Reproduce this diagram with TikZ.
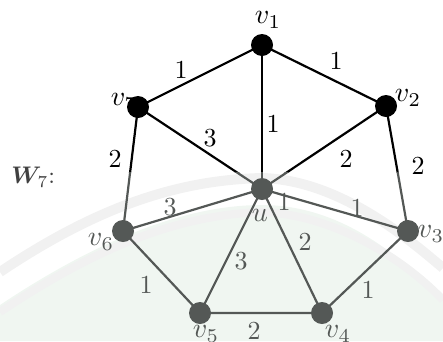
\documentclass[tikz,border=0pt]{standalone}
\usepackage{bm}
\definecolor{lowgray}{HTML}{545856}
\definecolor{wmgray}{HTML}{F1F1F1}
\definecolor{wmgreen}{HTML}{F0F6F1}
\tikzset{
  vtx/.style={circle,minimum size=22pt,inner sep=0pt},
  upv/.style={vtx,fill=black},
  lowv/.style={vtx,fill=lowgray},
  lbl/.style={inner sep=0pt,scale=2.6},
  vlbl/.style={inner sep=0pt,scale=2.8},
  wlbl/.style={inner sep=0pt,scale=2.4},
  edge/.style={line width=2.2pt},
}
\begin{document}
\begin{tikzpicture}[x=1pt,y=-1pt]
\useasboundingbox (0,0) rectangle (443,341);
% watermark background
\fill[wmgreen] (0,341) -- (0,305) .. controls (90,245) and (180,205) .. (262,205)
  .. controls (340,205) and (400,255) .. (443,300) -- (443,341) -- cycle;
\draw[wmgray,line width=10pt] (0,272) .. controls (100,205) and (180,180) .. (262,178)
  .. controls (340,180) and (410,240) .. (443,268);
\draw[wmgray,line width=8pt] (0,312) .. controls (100,245) and (180,215) .. (262,212)
  .. controls (340,215) and (410,265) .. (443,300);
% vertices (positions)
\coordinate (p1) at (262,45);
\coordinate (p2) at (386,106);
\coordinate (p3) at (408,231);
\coordinate (p4) at (322,313);
\coordinate (p5) at (200,313);
\coordinate (p6) at (123,231);
\coordinate (p7) at (138,107);
\coordinate (pu) at (262,189);
% edges, upper (black) and lower (grey) parts
\begin{scope}
  \clip (0,0) rectangle (443,172);
  \draw[edge,black] (p1)--(p2)--(p3)--(p4)--(p5)--(p6)--(p7)--cycle;
  \foreach \p in {p1,p2,p3,p4,p5,p6,p7} \draw[edge,black] (pu)--(\p);
\end{scope}
\begin{scope}
  \clip (0,172) rectangle (443,341);
  \draw[edge,lowgray] (p1)--(p2)--(p3)--(p4)--(p5)--(p6)--(p7)--cycle;
  \foreach \p in {p1,p2,p3,p4,p5,p6,p7} \draw[edge,lowgray] (pu)--(\p);
\end{scope}
% nodes
\node[upv] (v1) at (p1) {};
\node[upv] (v2) at (p2) {};
\node[upv] (v7) at (p7) {};
\node[lowv] (v3) at (p3) {};
\node[lowv] (v4) at (p4) {};
\node[lowv] (v5) at (p5) {};
\node[lowv] (v6) at (p6) {};
\node[lowv] (u) at (pu) {};
% vertex labels
\node[vlbl] (l1) at (268,20) {$v_1$};
\node[vlbl] (l7) at (124,102) {$v_7$};
\node[vlbl] (l2) at (408,98) {$v_2$};
\node[vlbl,text=lowgray] (l3) at (431,234) {$v_3$};
\node[vlbl,text=lowgray] (l6) at (101,242) {$v_6$};
\node[vlbl,text=lowgray] (l5) at (206,334) {$v_5$};
\node[vlbl,text=lowgray] (l4) at (338,334) {$v_4$};
\node[vlbl,text=lowgray] (lu) at (260,215) {$u$};
\node[wlbl,text=black!75,anchor=west] (w7) at (11,177) {$\bm{W}_7$:};
% edge labels
\node[lbl] (e71) at (181,70) {1};
\node[lbl] (e12) at (336,61) {1};
\node[lbl] (e1u) at (273,124) {1};
\node[lbl] (e7u) at (210,138) {3};
\node[lbl] (e2u) at (346,159) {2};
\node[lbl] (e76) at (115,159) {2};
\node[lbl] (e23) at (418,166) {2};
\node[lbl,text=lowgray] (e6u) at (170,207) {3};
\node[lbl,text=lowgray] (eu1) at (284,202) {1};
\node[lbl,text=lowgray] (e3u) at (357,208) {1};
\node[lbl,text=lowgray] (e5u) at (241,261) {3};
\node[lbl,text=lowgray] (e4u) at (305,242) {2};
\node[lbl,text=lowgray] (e65) at (146,285) {1};
\node[lbl,text=lowgray] (e34) at (368,290) {1};
\node[lbl,text=lowgray] (e54) at (254,331) {2};
\end{tikzpicture}
\end{document}
